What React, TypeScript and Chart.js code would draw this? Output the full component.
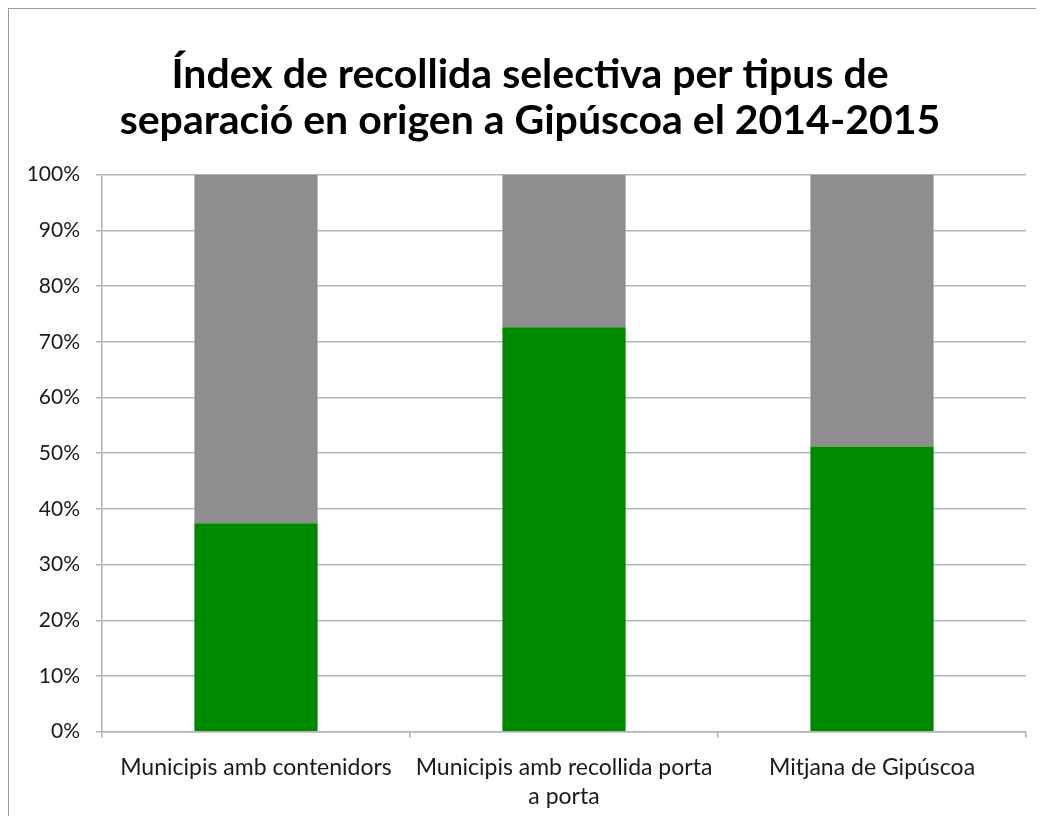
import React, { useEffect, useRef } from "react";
import { Chart, registerables } from "chart.js";

Chart.register(...registerables);

const categories: (string | string[])[] = [
  "Municipis amb contenidors",
  ["Municipis amb recollida porta", "a porta"],
  "Mitjana de Gipúscoa",
];
const selectiva: number[] = [37.4, 72.6, 51.2];
const resta: number[] = [62.6, 27.4, 48.8];
const titleLines: string[] = [
  "Índex de recollida selectiva per tipus de",
  "separació en origen a Gipúscoa el 2014-2015",
];

const W = 1042;
const H = 828;

export default function App() {
  const ref = useRef<HTMLCanvasElement | null>(null);
  useEffect(() => {
    if (!ref.current) return;
    const gridColor = "#b4b4b4";
    const chart = new Chart(ref.current, {
      type: "bar",
      data: {
        labels: categories,
        datasets: [
          {
            label: "Selectiva",
            data: selectiva,
            backgroundColor: "#008a00",
            barPercentage: 0.4,
            categoryPercentage: 1,
          },
          {
            label: "Resta",
            data: resta,
            backgroundColor: "#8e8e8e",
            barPercentage: 0.4,
            categoryPercentage: 1,
          },
        ],
      },
      options: {
        responsive: false,
        animation: false,
        layout: { padding: { top: 0, right: 0, bottom: 0, left: 0 } },
        plugins: {
          legend: { display: false },
          tooltip: { enabled: false },
          title: {
            display: true,
            text: titleLines,
            color: "#000",
            font: { family: "Lato", size: 41, weight: "bold", lineHeight: 1.12 },
            padding: { top: 43, bottom: 30.8 },
          },
        },
        scales: {
          x: {
            stacked: true,
            grid: {
              drawOnChartArea: false,
              drawTicks: true,
              tickLength: 6,
              color: gridColor,
              lineWidth: 1.5,
              offset: true,
            },
            border: { color: gridColor, width: 1.5 },
            ticks: {
              color: "#1a1a1a",
              font: { family: "Lato", size: 23, lineHeight: 1.25 },
              padding: 16,
              maxRotation: 0,
              autoSkip: false,
            },
            afterFit: (s: any) => {
              s.height = 105.3;
            },
          },
          y: {
            stacked: true,
            min: 0,
            max: 100,
            grid: {
              color: gridColor,
              lineWidth: 1.5,
              tickLength: 6,
            },
            border: { color: gridColor, width: 1.5 },
            ticks: {
              stepSize: 10,
              color: "#1a1a1a",
              font: { family: "Lato", size: 21 },
              padding: 16,
              callback: (v: any) => v + "%",
            },
            afterFit: (s: any) => {
              s.width = 93;
            },
          },
          yRight: {
            type: "linear",
            position: "right",
            display: true,
            min: 0,
            max: 100,
            grid: { display: false, drawTicks: false },
            border: { display: false },
            ticks: { display: false },
            afterFit: (s: any) => {
              s.width = 25;
            },
          },
        },
      },
    });
    return () => chart.destroy();
  }, []);
  return (
    <div
      style={{
        width: W,
        height: H,
        border: "1px solid #9a9a9a",
        background: "#fff",
      }}
    >
      <canvas ref={ref} width={W} height={H} style={{ display: "block" }} />
    </div>
  );
}
